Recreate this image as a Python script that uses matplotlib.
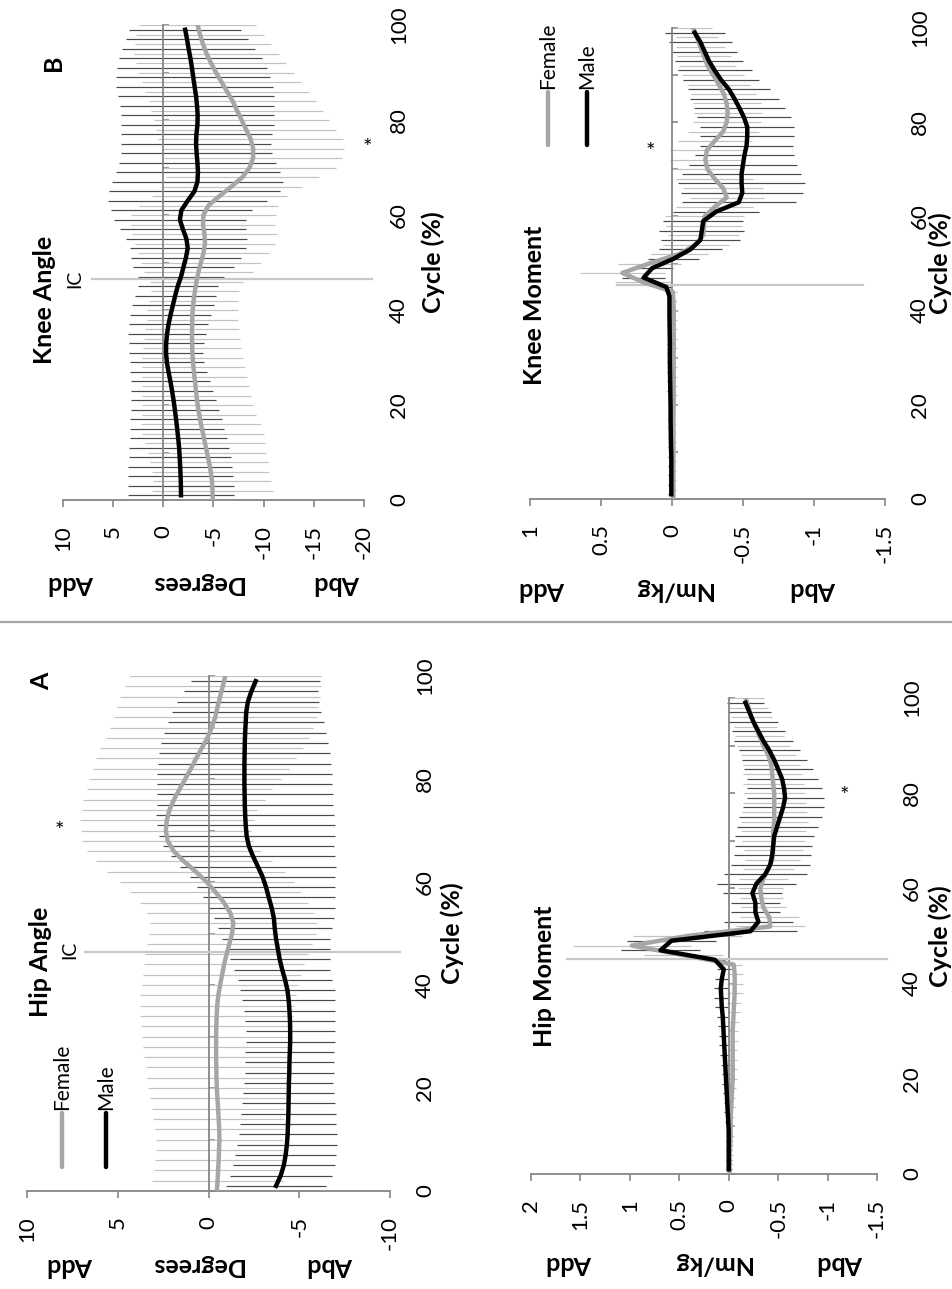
import numpy as np
import matplotlib
matplotlib.use("Agg")
import matplotlib.pyplot as plt
from matplotlib.lines import Line2D

plt.rcParams['font.family'] = ['Lato', 'DejaVu Sans']
plt.rcParams['axes.unicode_minus'] = False

# cycle points: error bars were shown on alternate samples, females on even, males on odd
cycle_female = np.arange(0, 101, 2)
cycle_male = np.arange(1, 100, 2)

# ---- Hip angle (degrees)
hip_angle_female = [
    -0.46, -0.50, -0.53, -0.56, -0.58, -0.60, -0.59, -0.56, -0.53, -0.49,
    -0.46, -0.44, -0.43, -0.42, -0.42, -0.42, -0.43, -0.45, -0.48, -0.54,
    -0.64, -0.75, -0.86, -1.00, -1.15, -1.30, -1.37, -1.20, -0.85, -0.40,
    0.10, 0.70, 1.35, 1.92, 2.25, 2.35, 2.30, 2.15, 1.90, 1.60,
    1.28, 0.97, 0.68, 0.37, 0.06, -0.18, -0.37, -0.50, -0.64, -0.79,
    -0.92]
hip_angle_female_sd = [
    3.60, 3.60, 3.55, 3.50, 3.50, 3.50, 3.55, 3.60, 3.65, 3.70,
    3.80, 3.85, 3.90, 4.00, 4.05, 4.10, 4.15, 4.20, 4.25, 4.30,
    4.30, 4.35, 4.40, 4.50, 4.55, 4.60, 4.60, 4.60, 4.65, 4.70,
    4.80, 4.90, 4.85, 4.80, 4.70, 4.70, 4.80, 4.80, 5.00, 5.10,
    5.30, 5.40, 5.50, 5.60, 5.60, 5.60, 5.60, 5.55, 5.50, 5.40,
    5.30]
hip_angle_male = [
    -3.72, -3.98, -4.15, -4.25, -4.32, -4.36, -4.38, -4.40, -4.41, -4.42,
    -4.43, -4.45, -4.46, -4.48, -4.50, -4.50, -4.49, -4.46, -4.42, -4.35,
    -4.22, -4.06, -3.92, -3.82, -3.72, -3.65, -3.60, -3.48, -3.32, -3.17,
    -2.98, -2.72, -2.45, -2.22, -2.10, -2.05, -2.02, -2.00, -1.99, -1.98,
    -1.98, -1.98, -1.99, -2.00, -2.02, -2.05, -2.08, -2.17, -2.36, -2.60]
hip_angle_male_sd = [
    2.75, 2.80, 2.80, 2.80, 2.75, 2.70, 2.65, 2.60, 2.55, 2.50,
    2.45, 2.45, 2.45, 2.45, 2.45, 2.45, 2.50, 2.50, 2.55, 2.60,
    2.60, 2.65, 2.75, 2.85, 3.00, 3.15, 3.30, 3.50, 3.65, 3.80,
    4.00, 4.30, 4.50, 4.70, 4.85, 4.90, 4.90, 4.85, 4.85, 4.80,
    4.80, 4.75, 4.70, 4.60, 4.45, 4.30, 4.10, 3.90, 3.70, 3.55]

# ---- Knee angle (degrees)
knee_angle_female = [
    -4.92, -4.90, -4.85, -4.72, -4.55, -4.35, -4.15, -3.95, -3.75, -3.58,
    -3.42, -3.30, -3.20, -3.10, -3.00, -2.92, -2.88, -2.86, -2.86, -2.88,
    -2.92, -3.02, -3.15, -3.30, -3.50, -3.75, -4.00, -4.15, -4.10, -3.95,
    -4.00, -4.50, -5.60, -6.80, -7.90, -8.60, -8.95, -8.95, -8.70, -8.25,
    -7.80, -7.35, -6.90, -6.35, -5.80, -5.25, -4.75, -4.30, -3.95, -3.65,
    -3.42]
knee_angle_female_sd = [
    6.00, 6.00, 5.90, 5.80, 5.85, 5.90, 6.00, 6.05, 5.95, 5.70,
    5.50, 5.40, 5.30, 5.20, 5.10, 5.00, 4.90, 4.75, 4.65, 4.55,
    4.50, 4.40, 4.35, 4.60, 5.40, 6.00, 6.50, 7.00, 7.20, 7.20,
    7.20, 6.90, 6.75, 7.00, 7.60, 8.60, 8.90, 9.10, 9.20, 8.95,
    8.70, 8.55, 8.30, 8.20, 7.90, 7.80, 7.45, 7.26, 6.75, 6.42,
    5.82]
knee_angle_male = [
    -1.76, -1.75, -1.72, -1.68, -1.63, -1.57, -1.48, -1.38, -1.27, -1.15,
    -1.02, -0.87, -0.70, -0.52, -0.35, -0.27, -0.28, -0.37, -0.52, -0.72,
    -0.95, -1.18, -1.43, -1.76, -2.00, -2.25, -2.43, -2.30, -1.95, -1.65,
    -1.80, -2.43, -3.10, -3.40, -3.45, -3.40, -3.32, -3.26, -3.30, -3.40,
    -3.42, -3.36, -3.26, -3.12, -2.98, -2.85, -2.70, -2.52, -2.36, -2.18]
knee_angle_male_sd = [
    5.30, 5.30, 5.25, 5.20, 5.10, 5.00, 4.85, 4.70, 4.55, 4.40,
    4.25, 4.10, 3.95, 3.80, 3.70, 3.70, 3.75, 3.85, 3.95, 4.05,
    4.10, 4.05, 4.00, 4.30, 5.00, 5.50, 5.80, 6.00, 6.30, 6.60,
    7.00, 7.90, 8.50, 8.50, 8.20, 7.80, 7.50, 7.50, 7.50, 7.60,
    7.65, 7.70, 7.80, 7.80, 7.65, 7.50, 7.10, 6.60, 6.10, 5.60]

# ---- Hip moment (Nm/kg)
hip_moment_female = [
    -0.010, -0.010, -0.010, -0.015, -0.020, -0.020, -0.020, -0.025, -0.030, -0.035,
    -0.040, -0.040, -0.040, -0.040, -0.040, -0.040, -0.045, -0.050, -0.055, -0.060,
    -0.060, -0.060, -0.050, 0.460, 0.980, 0.420, -0.420, -0.410, -0.350, -0.330,
    -0.320, -0.350, -0.400, -0.440, -0.450, -0.450, -0.450, -0.460, -0.460, -0.460,
    -0.460, -0.450, -0.440, -0.430, -0.400, -0.350, -0.310, -0.270, -0.230, -0.200,
    -0.170]
hip_moment_female_sd = [
    0.030, 0.030, 0.030, 0.030, 0.030, 0.030, 0.030, 0.035, 0.035, 0.040,
    0.040, 0.040, 0.045, 0.045, 0.050, 0.050, 0.055, 0.060, 0.070, 0.080,
    0.080, 0.080, 0.080, 0.400, 0.600, 0.550, 0.350, 0.300, 0.230, 0.220,
    0.230, 0.250, 0.260, 0.280, 0.300, 0.320, 0.330, 0.340, 0.330, 0.320,
    0.310, 0.310, 0.300, 0.290, 0.280, 0.270, 0.250, 0.220, 0.210, 0.200,
    0.190]
hip_moment_male = [
    0.000, 0.000, 0.000, 0.000, 0.000, 0.005, 0.010, 0.015, 0.020, 0.025,
    0.030, 0.035, 0.040, 0.045, 0.050, 0.055, 0.060, 0.070, 0.075, 0.080,
    0.070, 0.050, 0.140, 0.690, 0.580, -0.220, -0.300, -0.270, -0.270, -0.240,
    -0.280, -0.370, -0.420, -0.440, -0.450, -0.460, -0.490, -0.520, -0.550, -0.570,
    -0.560, -0.540, -0.500, -0.460, -0.410, -0.350, -0.300, -0.250, -0.210, -0.170]
hip_moment_male_sd = [
    0.030, 0.030, 0.030, 0.030, 0.030, 0.030, 0.035, 0.035, 0.040, 0.040,
    0.040, 0.045, 0.045, 0.050, 0.050, 0.055, 0.060, 0.065, 0.070, 0.070,
    0.070, 0.070, 0.100, 0.400, 0.450, 0.470, 0.350, 0.250, 0.250, 0.300,
    0.400, 0.420, 0.400, 0.390, 0.390, 0.400, 0.410, 0.420, 0.410, 0.390,
    0.380, 0.360, 0.350, 0.330, 0.310, 0.300, 0.270, 0.250, 0.220, 0.190]

# ---- Knee moment (Nm/kg)
knee_moment_female = [
    -0.010, -0.010, -0.010, -0.010, -0.010, -0.010, -0.010, -0.010, -0.010, -0.010,
    -0.012, -0.012, -0.012, -0.012, -0.012, -0.012, -0.012, -0.012, -0.012, -0.012,
    -0.012, -0.010, -0.005, 0.200, 0.350, 0.160, -0.050, -0.170, -0.220, -0.225,
    -0.230, -0.300, -0.385, -0.360, -0.300, -0.250, -0.235, -0.245, -0.300, -0.360,
    -0.385, -0.392, -0.385, -0.365, -0.330, -0.290, -0.250, -0.225, -0.200, -0.175,
    -0.150]
knee_moment_female_sd = [
    0.020, 0.020, 0.020, 0.020, 0.020, 0.020, 0.020, 0.020, 0.020, 0.020,
    0.020, 0.020, 0.020, 0.020, 0.020, 0.020, 0.020, 0.020, 0.020, 0.020,
    0.020, 0.025, 0.030, 0.200, 0.300, 0.220, 0.200, 0.230, 0.250, 0.270,
    0.280, 0.270, 0.260, 0.280, 0.270, 0.260, 0.250, 0.260, 0.260, 0.250,
    0.240, 0.240, 0.240, 0.230, 0.220, 0.220, 0.200, 0.190, 0.170, 0.150,
    0.130]
knee_moment_male = [
    0.005, 0.005, 0.005, 0.005, 0.005, 0.007, 0.008, 0.009, 0.010, 0.010,
    0.011, 0.012, 0.013, 0.014, 0.015, 0.015, 0.015, 0.016, 0.017, 0.018,
    0.018, 0.018, 0.040, 0.200, 0.140, -0.010, -0.130, -0.200, -0.210, -0.220,
    -0.310, -0.470, -0.495, -0.490, -0.490, -0.500, -0.510, -0.525, -0.530, -0.530,
    -0.507, -0.475, -0.440, -0.400, -0.345, -0.300, -0.260, -0.230, -0.200, -0.160]
knee_moment_male_sd = [
    0.020, 0.020, 0.020, 0.020, 0.020, 0.020, 0.020, 0.020, 0.020, 0.020,
    0.020, 0.020, 0.020, 0.020, 0.020, 0.020, 0.020, 0.020, 0.020, 0.020,
    0.020, 0.020, 0.030, 0.150, 0.150, 0.180, 0.220, 0.280, 0.300, 0.280,
    0.300, 0.400, 0.430, 0.450, 0.420, 0.380, 0.350, 0.330, 0.330, 0.330,
    0.330, 0.320, 0.310, 0.290, 0.270, 0.260, 0.240, 0.230, 0.220, 0.210]

angle_ticks_hip = [10, 5, 0, -5, -10]
angle_ticks_knee = [10, 5, 0, -5, -10, -15, -20]
moment_ticks_hip = [2, 1.5, 1, 0.5, 0, -0.5, -1, -1.5]
moment_ticks_knee = [1, 0.5, 0, -0.5, -1, -1.5]
cycle_ticks = [0, 20, 40, 60, 80, 100]
cycle_minor = [10, 30, 50, 70, 90]

AXIS_GREY = '#868686'
FEMALE = '#a6a6a6'
FEMALE_BAR = '#c2c2c2'
MALE = '#000000'
MALE_BAR = '#4a4a4a'

W, H = 952, 1289
fig = plt.figure(figsize=(W / 100, H / 100), dpi=100)
fig.patch.set_facecolor('white')


def panel_axes(left, right, bottom, top):
    # pixel box of the plot area -> figure fractions
    return fig.add_axes([left / W, 1 - bottom / H, (right - left) / W, (bottom - top) / H])


def draw_panel(ax, fem, fem_sd, mal, mal_sd, ticks, unit, ic, lay):
    fem = np.array(fem); fem_sd = np.array(fem_sd)
    mal = np.array(mal); mal_sd = np.array(mal_sd)
    ax.set_xlim(max(ticks), min(ticks))
    ax.set_ylim(0, 100)

    ax.hlines(cycle_female, fem - fem_sd, fem + fem_sd, colors=FEMALE_BAR, lw=0.85, zorder=2)
    ax.hlines(cycle_male, mal - mal_sd, mal + mal_sd, colors=MALE_BAR, lw=0.85, zorder=2.1)
    ax.axhline(ic, xmin=lay['ic'][0], xmax=lay['ic'][1], color='#c8c8c8', lw=1.6,
               clip_on=False, zorder=2.6)
    ax.plot(fem, cycle_female, color=FEMALE, lw=3.2, zorder=3)
    ax.plot(mal, cycle_male, color=MALE, lw=3.2, zorder=3.1)

    for s in ['top', 'right']:
        ax.spines[s].set_visible(False)
    ax.spines['bottom'].set_color(AXIS_GREY)
    ax.spines['bottom'].set_linewidth(1.3)
    ax.spines['left'].set_position(('data', 0))
    ax.spines['left'].set_bounds(0, 100)
    ax.spines['left'].set_color(AXIS_GREY)
    ax.spines['left'].set_linewidth(1.3)

    ax.set_xticks(ticks)
    ax.set_xticklabels([f"{t:g}" for t in ticks])
    ax.tick_params(axis='x', direction='out', length=5, width=1.2, color=AXIS_GREY,
                   labelrotation=90, pad=13, labelsize=16)
    ax.set_yticks(cycle_ticks)
    ax.set_yticks(cycle_minor, minor=True)
    ax.tick_params(axis='y', which='both', direction='in', length=4, width=1.2,
                   color=AXIS_GREY, left=True, right=False, labelleft=False,
                   labelright=True, labelrotation=90, pad=18, labelsize=16)
    for t in ax.yaxis.get_major_ticks():
        t.label2.set_va('center')

    ax.text(lay['cycle_x'], 0.5, 'Cycle (%)', transform=ax.transAxes, rotation=90,
            ha='center', va='center', fontsize=18, fontweight='bold')
    ux = lay['unit_x']
    for x, s in zip(ux, ['Add', unit, 'Abd']):
        ax.text(x, lay['unit_y'], s, transform=ax.transAxes, rotation=180,
                ha='center', va='center', fontsize=18, fontweight='bold')
    tx, ty = lay['title']
    ax.text(tx, ty, lay['name'], transform=ax.transAxes, rotation=90,
            ha='center', va='center', fontsize=18, fontweight='bold')
    sx, sy = lay['star']
    ax.text(sx, sy, '*', transform=ax.transAxes, ha='center', va='center', fontsize=16)
    if 'ic_text' in lay:
        ax.text(lay['ic_text'][0], lay['ic_text'][1], 'IC', transform=ax.transAxes,
                rotation=90, ha='center', va='center', fontsize=14)
    if 'letter' in lay:
        lx, ly, s = lay['letter']
        ax.text(lx, ly, s, transform=ax.transAxes, rotation=90, ha='center',
                va='center', fontsize=18, fontweight='bold')
    if 'legend' in lay:
        (fx, mx), (y0, y1) = lay['legend']
        for x, c, s in [(fx, FEMALE, 'Female'), (mx, MALE, 'Male')]:
            ax.plot([x, x], [y0, y1], transform=ax.transAxes, color=c, lw=3.2,
                    solid_capstyle='round', clip_on=False)
            ax.text(x, y1 + 0.006, s, transform=ax.transAxes, rotation=90,
                    ha='center', va='bottom', fontsize=15)


ax_hip_angle = panel_axes(27, 390, 1191, 676)
draw_panel(ax_hip_angle, hip_angle_female, hip_angle_female_sd, hip_angle_male,
           hip_angle_male_sd, angle_ticks_hip, 'Degrees', 46.5,
           dict(name='Hip Angle', title=(0.036, 0.445), ic=(0.16, 1.028),
                ic_text=(0.118, 0.468), letter=(0.041, 0.99, 'A'), star=(0.088, 0.699),
                cycle_x=1.171, unit_x=(0.118, 0.468, 0.835), unit_y=-0.144,
                legend=((0.096, 0.218), (0.047, 0.151))))

ax_knee_angle = panel_axes(63, 364, 500, 25)
draw_panel(ax_knee_angle, knee_angle_female, knee_angle_female_sd, knee_angle_male,
           knee_angle_male_sd, angle_ticks_knee, 'Degrees', 46.5,
           dict(name='Knee Angle', title=(-0.06, 0.421), ic=(0.096, 1.027),
                ic_text=(0.04, 0.465), letter=(-0.033, 0.92, 'B'), star=(1.01, 0.741),
                cycle_x=1.229, unit_x=(0.027, 0.445, 0.91), unit_y=-0.175))

ax_hip_moment = panel_axes(531, 877, 1174, 698)
draw_panel(ax_hip_moment, hip_moment_female, hip_moment_female_sd, hip_moment_male,
           hip_moment_male_sd, moment_ticks_hip, 'Nm/kg', 45.2,
           dict(name='Hip Moment', title=(0.04, 0.416), ic=(0.104, 1.029),
                star=(0.907, 0.794), cycle_x=1.182, unit_x=(0.11, 0.523, 0.893),
                unit_y=-0.187))

ax_knee_moment = panel_axes(530, 885, 499, 28)
draw_panel(ax_knee_moment, knee_moment_female, knee_moment_female_sd, knee_moment_male,
           knee_moment_male_sd, moment_ticks_knee, 'Nm/kg', 45.5,
           dict(name='Knee Moment', title=(0.014, 0.412), ic=(0.245, 0.938),
                star=(0.338, 0.737), cycle_x=1.155, unit_x=(0.034, 0.403, 0.797),
                unit_y=-0.193, legend=((0.051, 0.161), (0.752, 0.864))))

# divider between the hip and knee halves
fig.add_artist(Line2D([0, 1], [1 - 622 / H, 1 - 622 / H], transform=fig.transFigure,
                      color='#a6a6a6', lw=1.6))

fig.savefig('out.png', dpi=100, facecolor='white')
